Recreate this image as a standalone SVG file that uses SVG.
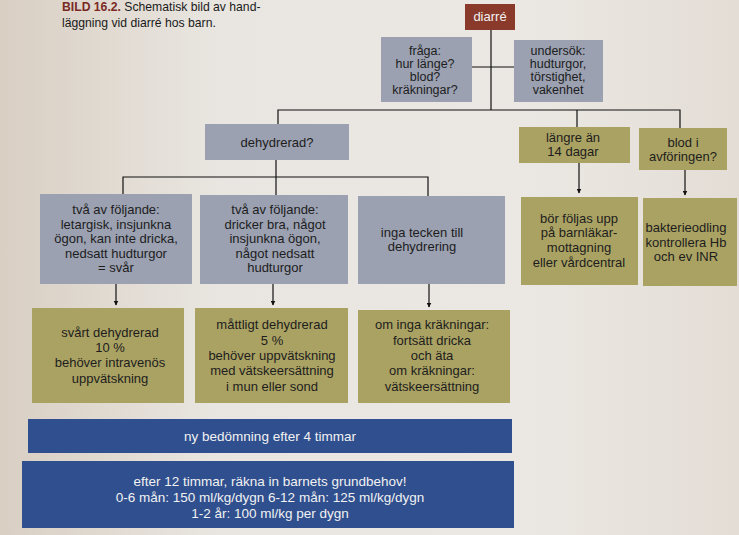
<svg xmlns="http://www.w3.org/2000/svg" width="739" height="535" viewBox="0 0 739 535">
<defs>
<linearGradient id="bg" x1="0" y1="0" x2="1" y2="0">
<stop offset="0" stop-color="#d9cfc3"/>
<stop offset="0.3" stop-color="#e9e6e1"/>
<stop offset="0.7" stop-color="#ebe8e3"/>
<stop offset="1" stop-color="#e4ddd6"/>
</linearGradient>
<marker id="ah" viewBox="0 0 10 10" refX="9" refY="5" markerWidth="5" markerHeight="5" orient="auto" markerUnits="userSpaceOnUse">
<path d="M0,0 L10,5 L0,10 z" fill="#111"/>
</marker>
<style>
.grey{fill:#9ba1b1}
.olive{fill:#aaa263}
.blue{fill:#2f4f8e}
.brown{fill:#8a3a2a}
.t{font-family:"Liberation Sans",Arial,sans-serif;font-size:13px;fill:#1d1d1d;text-anchor:middle}
.s{font-size:12.5px}
.b{font-size:13.5px}
.w{fill:#f2f2f2}
.ln{stroke:#111;stroke-width:1.2;fill:none}
.ar{stroke:#111;stroke-width:1.2;fill:none;marker-end:url(#ah)}
.cap{font-family:"Liberation Sans",Arial,sans-serif;font-size:12.2px;fill:#1a1a1a}
</style>
</defs>
<rect width="739" height="535" fill="url(#bg)"/>
<text class="cap" x="62" y="11"><tspan font-weight="bold" fill="#7a2a25">BILD 16.2.</tspan> Schematisk bild av hand-</text>
<text class="cap" x="62" y="27">läggning vid diarré hos barn.</text>

<g id="connectors">
<path class="ln" d="M491,30 V110"/>
<path class="ln" d="M472,67 H514"/>
<path class="ln" d="M278,124 V110 H680 V128"/>
<path class="ln" d="M577,110 V127"/>
<path class="ln" d="M276,160 V195"/>
<path class="ln" d="M123,194 V177 H428 V196"/>
<path class="ar" d="M579,163 V193"/>
<path class="ar" d="M685,170 V195"/>
<path class="ar" d="M116,284 V305"/>
<path class="ar" d="M273,284 V305"/>
<path class="ar" d="M429,284 V307"/>
</g>

<g id="diarre"><rect class="brown" x="465" y="4" width="50" height="26"/><text class="t w" x="490" y="21">diarré</text></g>
<g id="fraga"><rect class="grey" x="381" y="37" width="91" height="65"/>
<text class="t s" x="425" y="55">fråga:</text><text class="t s" x="425" y="68">hur länge?</text><text class="t s" x="425" y="81">blod?</text><text class="t s" x="425" y="94">kräkningar?</text></g>
<g id="undersok"><rect class="grey" x="514" y="40" width="89" height="62"/>
<text class="t s" x="558" y="55">undersök:</text><text class="t s" x="558" y="68">hudturgor,</text><text class="t s" x="558" y="81">törstighet,</text><text class="t s" x="558" y="94">vakenhet</text></g>
<g id="dehydrerad"><rect class="grey" x="205" y="124" width="144" height="36"/><text class="t" x="277" y="147">dehydrerad?</text></g>
<g id="langre"><rect class="olive" x="519" y="127" width="111" height="36"/>
<text class="t" x="573" y="142">längre än</text><text class="t" x="573" y="156">14 dagar</text></g>
<g id="blod"><rect class="olive" x="639" y="128" width="88" height="42"/>
<text class="t" x="683" y="147">blod i</text><text class="t" x="683" y="161">avföringen?</text></g>

<g id="svar"><rect class="grey" x="40" y="194" width="152" height="90"/>
<text class="t" x="116" y="214">två av följande:</text><text class="t" x="116" y="229">letargisk, insjunkna</text><text class="t" x="116" y="243">ögon, kan inte dricka,</text><text class="t" x="116" y="258">nedsatt hudturgor</text><text class="t" x="116" y="272">= svår</text></g>
<g id="mattlig"><rect class="grey" x="200" y="195" width="148" height="89"/>
<text class="t" x="275" y="214">två av följande:</text><text class="t" x="275" y="229">dricker bra, något</text><text class="t" x="275" y="243">insjunkna ögon,</text><text class="t" x="275" y="258">något nedsatt</text><text class="t" x="275" y="272">hudturgor</text></g>
<g id="inga"><rect class="grey" x="358" y="196" width="147" height="88"/>
<text class="t" x="422" y="237">inga tecken till</text><text class="t" x="422" y="251">dehydrering</text></g>
<g id="borfoljas"><rect class="olive" x="521" y="197" width="117" height="88"/>
<text class="t" x="579" y="223">bör följas upp</text><text class="t" x="579" y="237">på barnläkar-</text><text class="t" x="579" y="252">mottagning</text><text class="t" x="579" y="267">eller vårdcentral</text></g>
<g id="bakterie"><rect class="olive" x="643" y="198" width="94" height="88"/>
<text class="t" x="686" y="232">bakterieodling</text><text class="t" x="686" y="247">kontrollera Hb</text><text class="t" x="686" y="261">och ev INR</text></g>

<g id="svart"><rect class="olive" x="32" y="308" width="152" height="95"/>
<text class="t" x="110" y="337">svårt dehydrerad</text><text class="t" x="110" y="352">10 %</text><text class="t" x="110" y="367">behöver intravenös</text><text class="t" x="110" y="383">uppvätskning</text></g>
<g id="mattligt"><rect class="olive" x="195" y="308" width="153" height="95"/>
<text class="t" x="272" y="329">måttligt dehydrerad</text><text class="t" x="272" y="345">5 %</text><text class="t" x="272" y="360">behöver uppvätskning</text><text class="t" x="272" y="375">med vätskeersättning</text><text class="t" x="272" y="391">i mun eller sond</text></g>
<g id="omInga"><rect class="olive" x="358" y="310" width="152" height="93"/>
<text class="t" x="432" y="329">om inga kräkningar:</text><text class="t" x="432" y="345">fortsätt dricka</text><text class="t" x="432" y="360">och äta</text><text class="t" x="432" y="375">om kräkningar:</text><text class="t" x="432" y="391">vätskeersättning</text></g>

<g id="nybedomning"><rect class="blue" x="28" y="419" width="484" height="34"/><text class="t b w" x="270" y="441">ny bedömning efter 4 timmar</text></g>
<g id="efter12"><rect class="blue" x="22" y="461" width="492" height="67"/>
<text class="t b w" x="270" y="486">efter 12 timmar, räkna in barnets grundbehov!</text>
<text class="t b w" x="270" y="502">0-6 mån: 150 ml/kg/dygn 6-12 mån: 125 ml/kg/dygn</text>
<text class="t b w" x="270" y="518">1-2 år: 100 ml/kg per dygn</text></g>
</svg>
